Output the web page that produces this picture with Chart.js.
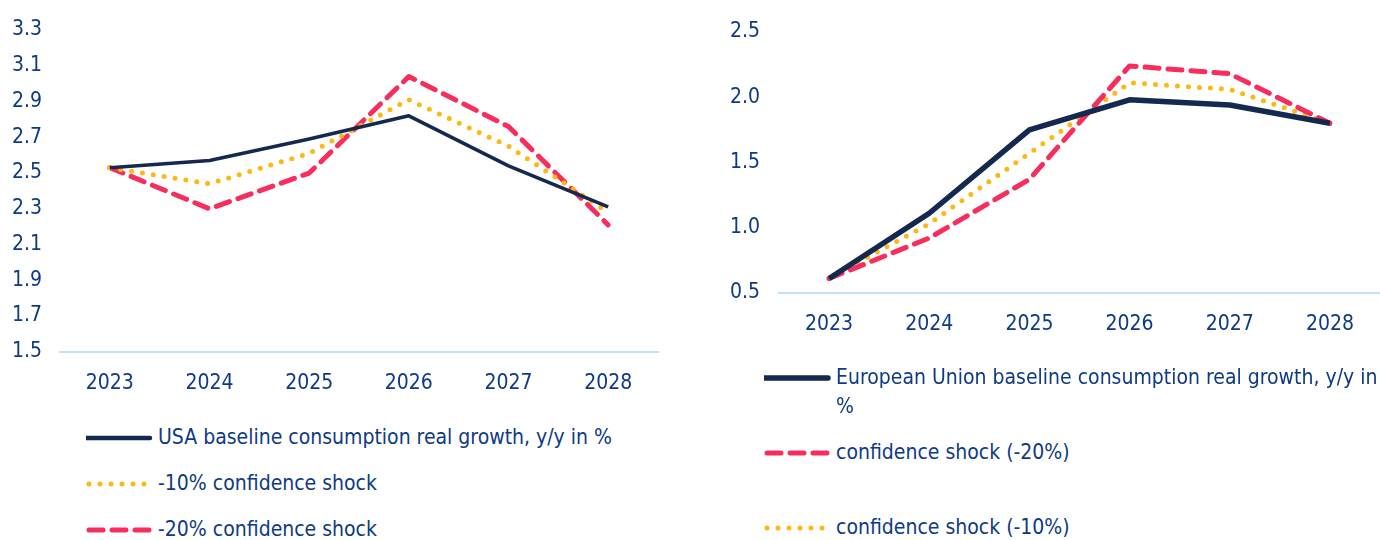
<!DOCTYPE html>
<html>
<head>
<meta charset="utf-8">
<script src="https://cdn.jsdelivr.net/npm/chart.js@4"></script>
<style>
  body { margin: 0; background: #fff; width: 1380px; height: 540px; overflow: hidden; position: relative;
         font-family: "DejaVu Sans Condensed", "Liberation Sans Narrow", sans-serif; color: #0e3a85; }
  .box { position: absolute; top: 0; width: 680px; height: 419px; }
  .legend { position: absolute; font-size: 21px; }
  .row { position: absolute; display: flex; align-items: flex-start; white-space: normal; }
  .row svg { flex: none; }
</style>
</head>
<body>
<div class="box" style="left:0"><canvas id="usaChart"></canvas></div>
<div class="box" style="left:700px"><canvas id="euChart"></canvas></div>
<div class="legend" id="usaLegend"></div>
<div class="legend" id="euLegend"></div>
<script>
const years = ['2023', '2024', '2025', '2026', '2027', '2028'];

const usaBaseline = [2.53, 2.57, 2.69, 2.82, 2.54, 2.31];
const usaShock10 = [2.53, 2.44, 2.61, 2.91, 2.65, 2.28];
const usaShock20 = [2.53, 2.30, 2.50, 3.04, 2.76, 2.21];

const euBaseline = [0.61, 1.11, 1.75, 1.98, 1.94, 1.80];
const euShock20 = [0.61, 0.92, 1.37, 2.24, 2.18, 1.80];
const euShock10 = [0.61, 1.03, 1.57, 2.11, 2.06, 1.80];

const navy = '#13294f';
const yellow = '#fdb813';
const pink = '#f72d5e';
const textColor = '#0e3a85';
const font = { family: '"DejaVu Sans Condensed", "Liberation Sans Narrow", sans-serif', size: 21 };

const styles = {
    solid: { color: navy, dash: [], cap: 'butt' },
    dotted: { color: yellow, dash: [0, 11], cap: 'round', width: 5 },
    dashed: { color: pink, dash: [14, 9], cap: 'round', width: 5 }
};

function line(label, data, kind, width) {
    const s = styles[kind];
    return {
        label: label,
        data: data,
        borderColor: s.color,
        borderWidth: width || s.width,
        borderDash: s.dash,
        borderCapStyle: s.cap,
        borderJoinStyle: 'round',
        pointRadius: 0,
        tension: 0,
        fill: false
    };
}

function makeChart(id, datasets, yMin, yMax, step, pad, yWidth) {
    return new Chart(document.getElementById(id), {
        type: 'line',
        data: { labels: years, datasets: datasets },
        options: {
            responsive: true,
            maintainAspectRatio: false,
            animation: false,
            layout: { padding: pad },
            plugins: { legend: { display: false }, tooltip: { enabled: false } },
            scales: {
                x: {
                    offset: true,
                    grid: { display: false, drawTicks: false },
                    border: { color: '#c6e0fa', width: 2 },
                    ticks: { color: textColor, font: font, padding: 19 }
                },
                y: {
                    min: yMin,
                    max: yMax,
                    afterFit: (s) => { s.width = yWidth; },
                    grid: { display: false, drawTicks: false },
                    border: { display: false },
                    ticks: {
                        stepSize: step,
                        crossAlign: 'far',
                        color: textColor,
                        font: font,
                        callback: (v) => v.toFixed(1)
                    }
                }
            }
        }
    });
}

const usaSets = [
    line('USA baseline consumption real growth, y/y in %', usaBaseline, 'solid', 3.5),
    line('-10% confidence shock', usaShock10, 'dotted'),
    line('-20% confidence shock', usaShock20, 'dashed')
];
const euSets = [
    line('European Union baseline consumption real growth, y/y in %', euBaseline, 'solid', 5.5),
    line('confidence shock (-20%)', euShock20, 'dashed'),
    line('confidence shock (-10%)', euShock10, 'dotted')
];

makeChart('usaChart', usaSets, 1.5, 3.3, 0.2, { left: 12, right: 22, top: 30, bottom: 4 }, 48);
makeChart('euChart', euSets, 0.5, 2.5, 0.5, { left: 30, right: 0, top: 32, bottom: 63 }, 49);

// legends drawn as html rows, samples follow each dataset's style
function buildLegend(el, sets, left, tops, sampleW, textW) {
    const box = document.getElementById(el);
    sets.forEach((d, i) => {
        const row = document.createElement('div');
        row.className = 'row';
        row.style.left = left + 'px';
        row.style.top = (tops[i] - 15) + 'px';
        const dash = d.borderDash.length ? d.borderDash.join(' ') : 'none';
        row.innerHTML =
            '<svg width="' + (sampleW + 8) + '" height="30"><line x1="' + (d.borderCapStyle === 'round' ? 3 : 0) +
            '" y1="15" x2="' + sampleW + '" y2="15" stroke="' + d.borderColor + '" stroke-width="' +
            Math.max(d.borderWidth, 4.5) + '" stroke-linecap="round" stroke-dasharray="' + dash + '"/></svg>' +
            '<span style="display:block;width:' + textW + 'px;line-height:29px">' + d.label + '</span>';
        box.appendChild(row);
    });
}
buildLegend('usaLegend', usaSets, 86, [438, 484, 530], 64, 560);
buildLegend('euLegend', euSets, 764, [378, 453, 528], 64, 545);
</script>
</body>
</html>
